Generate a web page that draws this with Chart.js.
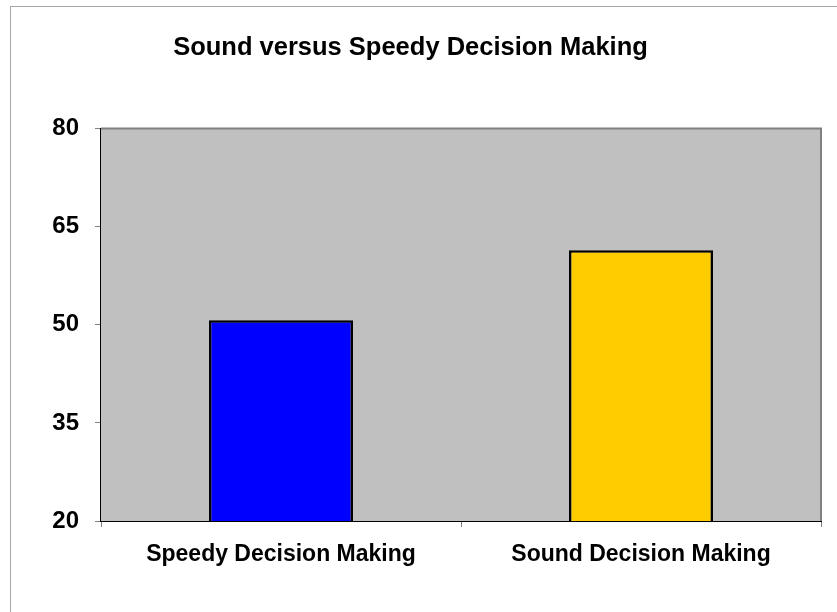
<!DOCTYPE html>
<html>
<head>
<meta charset="utf-8">
<script src="https://cdn.jsdelivr.net/npm/chart.js@4/dist/chart.umd.min.js"></script>
<style>
  html, body { margin: 0; padding: 0; background: #ffffff; }
  body { width: 837px; height: 612px; position: relative; overflow: hidden; }
  #frame { position: absolute; left: 10px; top: 6px; width: 900px; height: 700px;
           border: 1px solid #a6a6a6; box-sizing: border-box; }
  #wrap { position: absolute; left: 0; top: 0; width: 837px; height: 612px; }
</style>
</head>
<body>
<div id="frame"></div>
<div id="wrap"><canvas id="chart" width="837" height="612"></canvas></div>
<script>
// Survey scores for the two decision-making styles
const categories = ['Speedy Decision Making', 'Sound Decision Making'];
const scores = [50.7, 61.4];
const barColors = ['#0000FF', '#FFCC00'];
const yTicks = [20, 35, 50, 65, 80];

// Grey plot area with a grey frame on top and right
const plotArea = {
  id: 'plotArea',
  beforeDatasetsDraw(chart) {
    const { ctx, chartArea: a } = chart;
    ctx.save();
    ctx.fillStyle = '#C0C0C0';
    ctx.fillRect(a.left, a.top, a.right - a.left, a.bottom - a.top);
    ctx.restore();
  },
  afterDraw(chart) {
    const { ctx, chartArea: a } = chart;
    ctx.save();
    ctx.strokeStyle = '#808080';
    ctx.lineWidth = 2;
    ctx.beginPath();
    ctx.moveTo(a.left, a.top);
    ctx.lineTo(a.right, a.top);
    ctx.lineTo(a.right, a.bottom);
    ctx.stroke();
    ctx.restore();
  }
};

new Chart(document.getElementById('chart'), {
  type: 'bar',
  data: {
    labels: categories,
    datasets: [{
      data: scores,
      backgroundColor: barColors,
      borderColor: '#000000',
      borderWidth: 2.5,
      borderSkipped: 'start',
      barPercentage: 0.4,
      categoryPercentage: 1.0
    }]
  },
  options: {
    responsive: false,
    animation: false,
    layout: { padding: { left: 0, right: 16, top: 0, bottom: 0 } },
    plugins: {
      legend: { display: false },
      tooltip: { enabled: false },
      title: {
        display: true,
        text: 'Sound versus Speedy Decision Making',
        color: '#000000',
        font: { family: 'Liberation Sans, Arial, sans-serif', size: 25.5, weight: 'bold', lineHeight: 1.2 },
        padding: { top: 33, bottom: 65 }
      }
    },
    scales: {
      x: {
        offset: true,
        grid: {
          offset: true,
          drawOnChartArea: false,
          tickLength: 6,
          tickColor: '#808080',
          color: '#808080'
        },
        border: { color: '#000000', width: 2 },
        ticks: {
          color: '#000000',
          padding: 14,
          maxRotation: 0,
          font: { family: 'Liberation Sans, Arial, sans-serif', size: 23, weight: 'bold' }
        },
        afterFit(scale) { scale.height = 91; }
      },
      y: {
        min: 20,
        max: 80,
        afterBuildTicks(scale) { scale.ticks = yTicks.map(v => ({ value: v })); },
        grid: {
          color: '#808080',
          lineWidth: 1,
          tickLength: 6,
          tickColor: '#808080'
        },
        border: { color: '#000000', width: 2 },
        ticks: {
          color: '#000000',
          padding: 16,
          font: { family: 'Liberation Sans, Arial, sans-serif', size: 24, weight: 'bold' }
        },
        afterFit(scale) { scale.width = 101; }
      }
    }
  },
  plugins: [plotArea]
});
</script>
</body>
</html>
